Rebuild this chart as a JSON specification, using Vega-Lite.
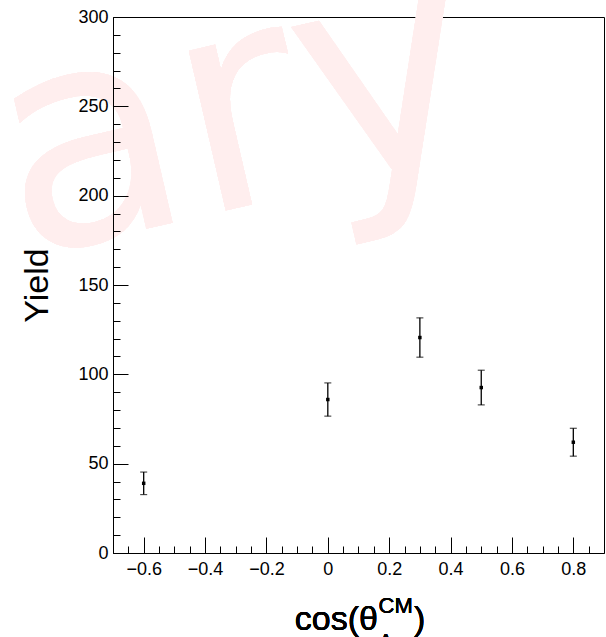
{
  "$schema": "https://vega.github.io/schema/vega-lite/v6.json",
  "width": 491,
  "height": 536,
  "autosize": {"type": "none"},
  "padding": {"left": 113, "top": 17, "right": 2, "bottom": 84},
  "background": "white",
  "config": {
    "view": {"stroke": "black", "strokeWidth": 1},
    "font": "Liberation Sans",
    "axis": {
      "domainColor": "black", "tickColor": "black", "labelColor": "black", "titleColor": "black",
      "grid": false, "labelFont": "Liberation Sans", "titleFont": "Liberation Sans",
      "zindex": 1, "domainWidth": 1, "tickWidth": 1, "labelOverlap": false, "labelFlush": false
    }
  },
  "data": {"values": [
    {"cos": -0.6, "yield": 39.0, "err": 6.3},
    {"cos": 0.0, "yield": 85.9, "err": 9.3},
    {"cos": 0.3, "yield": 120.6, "err": 11.0},
    {"cos": 0.5, "yield": 92.6, "err": 9.7},
    {"cos": 0.8, "yield": 62.0, "err": 7.8}
  ]},
  "resolve": {"axis": {"x": "independent", "y": "independent"}},
  "layer": [
    {
      "mark": {"type": "text", "text": "ary", "fontSize": 300, "font": "DejaVu Sans", "align": "left", "baseline": "alphabetic", "angle": -13, "fill": "#ffeeee"},
      "encoding": {
        "x": {"datum": -1.003, "type": "quantitative", "scale": {"domain": [-0.7, 0.9], "nice": false, "zero": false}, "axis": null},
        "y": {"datum": 165.1, "type": "quantitative", "scale": {"domain": [0, 300], "nice": false, "zero": false}, "axis": null}
      }
    },
    {
      "mark": {"type": "errorbar", "color": "black", "ticks": {"size": 7, "color": "black", "thickness": 1.2}, "rule": {"strokeWidth": 1.3, "color": "black"}},
      "encoding": {
        "x": {"field": "cos", "type": "quantitative", "scale": {"domain": [-0.7, 0.9], "nice": false, "zero": false},
          "axis": {"orient": "bottom", "zindex": 1, "values": [-0.6, -0.4, -0.2, 0, 0.2, 0.4, 0.6, 0.8], "format": ".1~f", "tickSize": -16, "labelFontSize": 18, "labelPadding": 23, "title": null}},
        "y": {"field": "yield", "type": "quantitative", "scale": {"domain": [0, 300], "nice": false, "zero": false},
          "axis": {"orient": "left", "zindex": 1, "values": [0, 50, 100, 150, 200, 250, 300], "tickSize": -15, "labelFontSize": 18, "labelPadding": 20, "title": "Yield", "titleFontSize": 34, "titleFontWeight": "normal", "titlePadding": 23}},
        "yError": {"field": "err"}
      }
    },
    {
      "mark": {"type": "square", "color": "black", "filled": true, "opacity": 1, "size": 12},
      "encoding": {
        "x": {"field": "cos", "type": "quantitative", "scale": {"domain": [-0.7, 0.9], "nice": false, "zero": false},
          "axis": {"orient": "bottom", "zindex": 1, "values": [-0.65, -0.55, -0.5, -0.45, -0.35, -0.3, -0.25, -0.15, -0.1, -0.05, 0.05, 0.1, 0.15, 0.25, 0.3, 0.35, 0.45, 0.5, 0.55, 0.65, 0.7, 0.75, 0.85], "tickSize": -7, "labels": false, "domain": false, "title": null}},
        "y": {"field": "yield", "type": "quantitative", "scale": {"domain": [0, 300], "nice": false, "zero": false},
          "axis": {"orient": "left", "zindex": 1, "values": [10, 20, 30, 40, 60, 70, 80, 90, 110, 120, 130, 140, 160, 170, 180, 190, 210, 220, 230, 240, 260, 270, 280, 290], "tickSize": -7, "labels": false, "domain": false, "title": null}}
      }
    },
    {
      "mark": {"type": "text", "text": "cos(θ", "fontSize": 34, "font": "Liberation Sans", "align": "right", "baseline": "alphabetic", "color": "black"},
      "encoding": {
        "x": {"datum": 0.1635, "type": "quantitative", "scale": {"domain": [-0.7, 0.9], "nice": false, "zero": false}, "axis": null},
        "y": {"datum": -43.1, "type": "quantitative", "scale": {"domain": [0, 300], "nice": false, "zero": false}, "axis": null}
      }
    },
    {
      "mark": {"type": "text", "text": "CM", "fontSize": 22, "font": "Liberation Sans", "align": "left", "baseline": "alphabetic", "color": "black"},
      "encoding": {
        "x": {"datum": 0.1655, "type": "quantitative", "scale": {"domain": [-0.7, 0.9], "nice": false, "zero": false}, "axis": null},
        "y": {"datum": -33.6, "type": "quantitative", "scale": {"domain": [0, 300], "nice": false, "zero": false}, "axis": null}
      }
    },
    {
      "mark": {"type": "text", "text": "Λ", "fontSize": 22, "font": "Liberation Sans", "align": "left", "baseline": "alphabetic", "color": "black"},
      "encoding": {
        "x": {"datum": 0.1655, "type": "quantitative", "scale": {"domain": [-0.7, 0.9], "nice": false, "zero": false}, "axis": null},
        "y": {"datum": -54.0, "type": "quantitative", "scale": {"domain": [0, 300], "nice": false, "zero": false}, "axis": null}
      }
    },
    {
      "mark": {"type": "text", "text": ")", "fontSize": 34, "font": "Liberation Sans", "align": "left", "baseline": "alphabetic", "color": "black"},
      "encoding": {
        "x": {"datum": 0.2808, "type": "quantitative", "scale": {"domain": [-0.7, 0.9], "nice": false, "zero": false}, "axis": null},
        "y": {"datum": -43.1, "type": "quantitative", "scale": {"domain": [0, 300], "nice": false, "zero": false}, "axis": null}
      }
    }
  ]
}
